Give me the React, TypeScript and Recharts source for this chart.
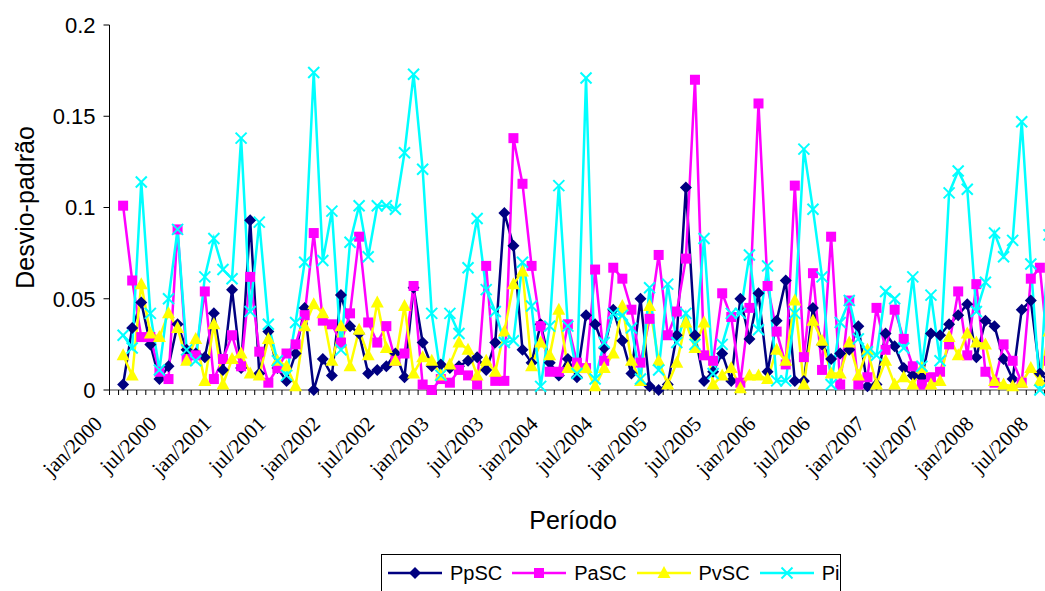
import React from 'react';
import { LineChart, Line, XAxis, YAxis } from 'recharts';

// Monthly standard deviation of the four price series, jan/2000 onward
const MONTH_NAMES = ['jan', 'fev', 'mar', 'abr', 'mai', 'jun', 'jul', 'ago', 'set', 'out', 'nov', 'dez'];
const FIRST_YEAR = 2000;
const LABEL_EVERY = 6;
const Y_TICKS = [0, 0.05, 0.1, 0.15, 0.2];

const PpSC = [
  null, 0.003, 0.034, 0.048, 0.025, 0.006, 0.013, 0.036, 0.022, 0.020, 0.018, 0.042,
  0.011, 0.055, 0.012, 0.093, 0.009, 0.032, 0.012, 0.005, 0.020, 0.045, 0.000, 0.017,
  0.008, 0.052, 0.035, 0.031, 0.009, 0.011, 0.013, 0.020, 0.007, 0.056, 0.026, 0.013,
  0.014, 0.012, 0.013, 0.016, 0.018, 0.011, 0.026, 0.097, 0.079, 0.022, 0.015, 0.036,
  0.015, 0.008, 0.017, 0.007, 0.041, 0.036, 0.023, 0.044, 0.027, 0.009, 0.050, 0.002,
  0.000, 0.003, 0.030, 0.111, 0.030, 0.005, 0.010, 0.020, 0.005, 0.050, 0.028, 0.053,
  0.010, 0.038, 0.060, 0.005, 0.005, 0.045, 0.025, 0.017, 0.020, 0.022, 0.035, 0.002,
  0.003, 0.031, 0.024, 0.012, 0.008, 0.007, 0.031, 0.030, 0.036, 0.041, 0.047, 0.018,
  0.038, 0.035, 0.017, 0.006, 0.044, 0.049, 0.009, 0.005,
];

const PaSC = [
  null, 0.101, 0.060, 0.029, 0.029, 0.010, 0.006, 0.088, 0.017, 0.019, 0.054, 0.006,
  0.017, 0.030, 0.013, 0.062, 0.021, 0.004, 0.012, 0.020, 0.025, 0.041, 0.086, 0.038,
  0.036, 0.026, 0.042, 0.084, 0.037, 0.026, 0.035, 0.016, 0.020, 0.057, 0.003, 0.000,
  0.006, 0.004, 0.011, 0.008, 0.003, 0.068, 0.005, 0.005, 0.138, 0.113, 0.068, 0.035,
  0.010, 0.010, 0.036, 0.015, 0.012, 0.066, 0.016, 0.067, 0.061, 0.044, 0.015, 0.039,
  0.074, 0.030, 0.043, 0.072, 0.170, 0.019, 0.016, 0.053, 0.040, 0.004, 0.045, 0.157,
  0.057, 0.032, 0.014, 0.112, 0.018, 0.064, 0.011, 0.084, 0.003, 0.049, 0.003, 0.007,
  0.045, 0.022, 0.044, 0.028, 0.013, 0.003, 0.007, 0.010, 0.025, 0.054, 0.019, 0.058,
  0.010, 0.004, 0.025, 0.016, 0.004, 0.061, 0.067, 0.016,
];

const PvSC = [
  null, 0.019, 0.008, 0.058, 0.031, 0.029, 0.042, 0.034, 0.016, 0.028, 0.005, 0.036,
  0.003, 0.017, 0.020, 0.009, 0.008, 0.028, 0.016, 0.013, 0.002, 0.035, 0.047, 0.042,
  0.016, 0.035, 0.013, 0.033, 0.019, 0.048, 0.023, 0.016, 0.046, 0.009, 0.018, 0.016,
  0.008, 0.014, 0.026, 0.022, 0.008, 0.016, 0.010, 0.032, 0.058, 0.065, 0.013, 0.026,
  0.019, 0.044, 0.012, 0.012, 0.012, 0.002, 0.012, 0.020, 0.046, 0.016, 0.005, 0.046,
  0.016, 0.003, 0.015, 0.037, 0.023, 0.037, 0.003, 0.008, 0.012, 0.001, 0.008, 0.008,
  0.006, 0.022, 0.016, 0.049, 0.003, 0.038, 0.027, 0.009, 0.009, 0.026, 0.008, 0.022,
  0.003, 0.016, 0.003, 0.007, 0.003, 0.012, 0.003, 0.005, 0.029, 0.019, 0.031, 0.026,
  0.025, 0.005, 0.003, 0.002, 0.004, 0.012, 0.005, 0.032,
];

const Pi = [
  null, 0.030, 0.023, 0.114, 0.042, 0.011, 0.050, 0.088, 0.022, 0.016, 0.062, 0.083,
  0.066, 0.061, 0.138, 0.043, 0.092, 0.036, 0.016, 0.008, 0.037, 0.070, 0.174, 0.071,
  0.098, 0.022, 0.081, 0.101, 0.073, 0.101, 0.101, 0.099, 0.130, 0.173, 0.121, 0.042,
  0.008, 0.042, 0.031, 0.067, 0.094, 0.055, 0.043, 0.026, 0.027, 0.070, 0.046, 0.002,
  0.035, 0.112, 0.035, 0.009, 0.171, 0.006, 0.026, 0.042, 0.041, 0.034, 0.006, 0.056,
  0.011, 0.058, 0.026, 0.042, 0.025, 0.083, 0.009, 0.025, 0.042, 0.042, 0.074, 0.033,
  0.068, 0.005, 0.005, 0.042, 0.132, 0.099, 0.062, 0.003, 0.037, 0.049, 0.028, 0.021,
  0.019, 0.054, 0.050, 0.023, 0.062, 0.013, 0.052, 0.016, 0.108, 0.120, 0.110, 0.043,
  0.059, 0.086, 0.073, 0.082, 0.147, 0.069, 0.000, 0.085,
];

const periods = PpSC.map(
  (_, i) => `${MONTH_NAMES[i % 12]}/${FIRST_YEAR + Math.floor(i / 12)}`
);

const data = periods.map((period, i) => ({
  i,
  period,
  PpSC: PpSC[i],
  PaSC: PaSC[i],
  PvSC: PvSC[i],
  Pi: Pi[i],
}));

// category boundaries carry the small tick marks; labels sit on category centres
const BOUNDARIES = [...periods.map((_, i) => i - 0.5), periods.length - 0.5];

// layout
const VIEW_W = 1045;
const VIEW_H = 591;
const CHART_W = 1100;
const CHART_H = 640;
const PLOT_LEFT = 109.5;
const PLOT_RIGHT = 1053.5;
const PLOT_TOP = 25;
const PLOT_BOTTOM = 390;
const Y_AXIS_W = 60;
const HALF_STEP = (PLOT_RIGHT - PLOT_LEFT) / (periods.length) / 2;

const SANS = '"Liberation Sans", Arial, sans-serif';
const SERIF = '"Liberation Serif", "Times New Roman", serif';

const COLORS = {
  PpSC: '#000080',
  PaSC: '#FF00FF',
  PvSC: '#FFFF00',
  Pi: '#00FFFF',
};

type MarkerKind = 'diamond' | 'square' | 'triangle' | 'cross';

const Marker = ({ kind, cx, cy, color }: { kind: MarkerKind; cx: number; cy: number; color: string }) => {
  if (kind === 'diamond') {
    return <path d={`M${cx},${cy - 6}L${cx + 6},${cy}L${cx},${cy + 6}L${cx - 6},${cy}Z`} fill={color} />;
  }
  if (kind === 'square') {
    return <rect x={cx - 5} y={cy - 5} width={10} height={10} fill={color} />;
  }
  if (kind === 'triangle') {
    return <path d={`M${cx},${cy - 7}L${cx + 6.5},${cy + 5}L${cx - 6.5},${cy + 5}Z`} fill={color} />;
  }
  return (
    <g stroke={color} strokeWidth={2}>
      <line x1={cx - 5.5} y1={cy - 5.5} x2={cx + 5.5} y2={cy + 5.5} />
      <line x1={cx - 5.5} y1={cy + 5.5} x2={cx + 5.5} y2={cy - 5.5} />
    </g>
  );
};

const SERIES: { key: 'PpSC' | 'PaSC' | 'PvSC' | 'Pi'; marker: MarkerKind }[] = [
  { key: 'PpSC', marker: 'diamond' },
  { key: 'PaSC', marker: 'square' },
  { key: 'PvSC', marker: 'triangle' },
  { key: 'Pi', marker: 'cross' },
];

const makeDot = (kind: MarkerKind, color: string) => (props: any) => {
  const { cx, cy, value, index } = props;
  if (value == null || cx == null || cy == null) return <g key={`e-${index}`} />;
  return (
    <g key={`m-${index}`}>
      <Marker kind={kind} cx={cx} cy={cy} color={color} />
    </g>
  );
};

const MonthTick = (props: any) => {
  const { x, payload } = props;
  const k = Math.round(payload.value + 0.5);
  if (k % LABEL_EVERY !== 0 || k >= periods.length) return <g />;
  const ax = x + HALF_STEP - 15.5;
  const ay = PLOT_BOTTOM + 30;
  return (
    <text
      x={ax}
      y={ay}
      transform={`rotate(-45 ${ax} ${ay})`}
      textAnchor="end"
      dominantBaseline="central"
      fontFamily={SERIF}
      fontSize={21}
      fill="#000"
    >
      {periods[k]}
    </text>
  );
};

const YTitle = (props: any) => {
  const vb = props.viewBox || { y: PLOT_TOP, height: PLOT_BOTTOM - PLOT_TOP };
  const cy = vb.y + vb.height / 2;
  const bx = 34;
  return (
    <text
      x={bx}
      y={cy}
      transform={`rotate(-90 ${bx} ${cy})`}
      textAnchor="middle"
      fontFamily={SANS}
      fontSize={25}
      fill="#000"
    >
      Desvio-padrão
    </text>
  );
};

const XTitle = () => (
  <text x={573} y={529} textAnchor="middle" fontFamily={SANS} fontSize={25} fill="#000">
    Período
  </text>
);

const LegendBox = () => (
  <div
    style={{
      position: 'absolute',
      left: 381,
      top: 554,
      width: 460,
      height: 40,
      boxSizing: 'border-box',
      border: '1px solid #000',
      background: '#fff',
      display: 'flex',
      alignItems: 'flex-start',
      paddingLeft: 6,
      paddingTop: 5,
      fontFamily: SANS,
      fontSize: 20,
      lineHeight: '26px',
      color: '#000',
    }}
  >
    {SERIES.map((s) => (
      <div key={s.key} style={{ display: 'flex', alignItems: 'center', marginRight: 10 }}>
        <svg width={54} height={26} style={{ display: 'block', marginRight: 8 }}>
          <line x1={0} y1={13} x2={54} y2={13} stroke={COLORS[s.key]} strokeWidth={2.5} />
          <Marker kind={s.marker} cx={27} cy={13} color={COLORS[s.key]} />
        </svg>
        <span>{s.key}</span>
      </div>
    ))}
  </div>
);

export default function App() {
  return (
    <div
      style={{
        position: 'absolute',
        left: 0,
        top: 0,
        width: VIEW_W,
        height: VIEW_H,
        overflow: 'hidden',
        background: '#fff',
      }}
    >
      <LineChart
        width={CHART_W}
        height={CHART_H}
        data={data}
        margin={{
          top: PLOT_TOP,
          right: CHART_W - PLOT_RIGHT,
          left: PLOT_LEFT - Y_AXIS_W,
          bottom: 0,
        }}
      >
        <XAxis
          type="number"
          dataKey="i"
          domain={[-0.5, periods.length - 0.5]}
          ticks={BOUNDARIES}
          interval={0}
          tickSize={5}
          tickMargin={0}
          height={CHART_H - PLOT_BOTTOM}
          axisLine={{ stroke: '#808080', strokeWidth: 1.5 }}
          tickLine={{ stroke: '#000', strokeWidth: 1 }}
          tick={<MonthTick />}
          label={{ content: <XTitle /> }}
        />
        <YAxis
          type="number"
          domain={[0, 0.2]}
          ticks={Y_TICKS}
          width={Y_AXIS_W}
          tickSize={6}
          tickMargin={8}
          axisLine={{ stroke: '#000', strokeWidth: 1 }}
          tickLine={{ stroke: '#000', strokeWidth: 1 }}
          tick={{ fontFamily: SANS, fontSize: 22, fill: '#000' }}
          label={{ content: <YTitle /> }}
        />
        {SERIES.map((s) => (
          <Line
            key={s.key}
            type="linear"
            dataKey={s.key}
            stroke={COLORS[s.key]}
            strokeWidth={2.5}
            dot={makeDot(s.marker, COLORS[s.key])}
            activeDot={false}
            isAnimationActive={false}
          />
        ))}
      </LineChart>
      <LegendBox />
    </div>
  );
}
